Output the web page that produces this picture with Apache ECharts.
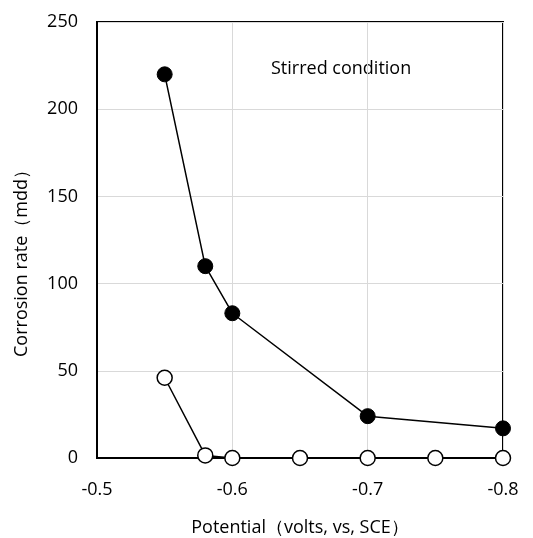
<!DOCTYPE html>
<html>
<head>
<meta charset="utf-8">
<script src="https://cdn.jsdelivr.net/npm/echarts@6/dist/echarts.min.js"></script>
<style>
  html, body { margin: 0; padding: 0; background: #fff; }
  #chart { width: 533px; height: 538px; }
</style>
</head>
<body>
<div id="chart"></div>
<script>
// potential (V vs SCE) and corrosion rate (mdd)
const stirredX = [-0.55, -0.58, -0.6, -0.7, -0.8];
const stirredY = [220, 110, 83, 24, 17];
const openX = [-0.55, -0.58, -0.6, -0.65, -0.7, -0.75, -0.8];
const openY = [46, 1.5, 0, 0, 0, 0, 0];

const FONT = "Open Sans";
const pairs = (xs, ys) => xs.map((x, i) => [x, ys[i]]);

const chart = echarts.init(document.getElementById("chart"));
chart.setOption({
  animation: false,
  backgroundColor: "#fff",
  textStyle: { fontFamily: FONT },
  grid: {
    left: 97, right: 30, top: 22, bottom: 80,
    outerBoundsMode: "none",
    show: true, borderColor: "#000", borderWidth: 2,
  },
  xAxis: {
    type: "value",
    inverse: true,
    min: -0.8,
    max: -0.5,
    interval: 0.1,
    name: "Potential（volts, vs, SCE）",
    nameLocation: "middle",
    nameGap: 61,
    nameTextStyle: { color: "#000", fontSize: 18, fontFamily: FONT },
    axisLine: { lineStyle: { color: "#000", width: 2 } },
    axisTick: { show: false },
    axisLabel: { color: "#000", fontSize: 18, margin: 23, formatter: (v) => String(+v.toFixed(1)) },
    splitLine: { lineStyle: { color: "#d9d9d9", width: 1 } },
  },
  yAxis: {
    type: "value",
    min: 0,
    max: 250,
    interval: 50,
    name: "Corrosion rate（mdd）",
    nameLocation: "middle",
    nameGap: 66,
    nameTextStyle: { color: "#000", fontSize: 18, fontFamily: FONT, padding: [0, 38, 0, 0] },
    axisLine: { lineStyle: { color: "#000", width: 2 } },
    axisTick: { show: false },
    axisLabel: { color: "#000", fontSize: 18, margin: 19 },
    splitLine: { lineStyle: { color: "#d9d9d9", width: 1 } },
  },
  graphic: [
    {
      type: "text",
      left: 271,
      top: 60,
      style: { text: "Stirred condition", fill: "#000", fontSize: 18, fontFamily: FONT },
    },
  ],
  series: [
    {
      type: "line",
      data: pairs(openX, openY),
      symbol: "circle",
      symbolSize: 15,
      lineStyle: { color: "#000", width: 1.5 },
      itemStyle: { color: "#fff", borderColor: "#000", borderWidth: 1.5 },
      z: 3,
    },
    {
      type: "line",
      data: pairs(stirredX, stirredY),
      symbol: "circle",
      symbolSize: 15,
      lineStyle: { color: "#000", width: 1.5 },
      itemStyle: { color: "#000", borderColor: "#000", borderWidth: 1 },
      z: 4,
    },
  ],
});
</script>
</body>
</html>
